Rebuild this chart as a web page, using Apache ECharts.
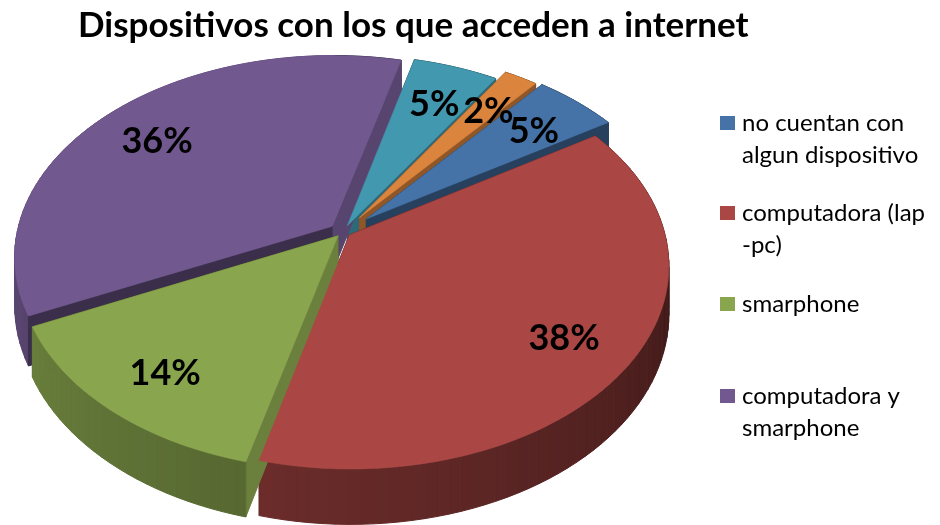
<!DOCTYPE html>
<html>
<head>
<meta charset="utf-8">
<script src="https://cdn.jsdelivr.net/npm/echarts@6/dist/echarts.min.js"></script>
<style>
  html, body { margin: 0; padding: 0; background: #fff; }
  #chart { width: 940px; height: 525px; }
</style>
</head>
<body>
<div id="chart"></div>
<script>
// data
const categories = ['no cuentan con algun dispositivo', 'computadora (lap -pc)', 'smarphone', 'computadora y smarphone', 'categoria 5', 'categoria 6'];
const values = [5, 38, 14, 36, 5, 2];
const legendNames = categories.slice(0, 4);
const colors = ['#4572a7', '#aa4643', '#89a54e', '#71588f', '#4198af', '#db843d'];

// pie layout (3d look)
const CX = 343, CY = 232, RX = 315, RY = 198, DEPTH = 47;
const PERSP = 0.15, START = 39.5, LABEL_R = 0.78, LABEL_DY = 6;
// how far each slice is pulled out (fraction of radius), same order as values
const explode = [0.1, 0.025, 0.025, 0.045, 0.035, 0.09];
const FONT = 'Lato';
const rad = Math.PI / 180;

const total = values.reduce((a, b) => a + b, 0);
const slices = [];
let acc = 0;
values.forEach((v) => {
  const a0 = START + (acc / total) * 360;
  acc += v;
  const a1 = START + (acc / total) * 360;
  slices.push({ a0: a0, a1: a1, mid: (a0 + a1) / 2 });
});

function proj(X, Y, drop) {
  const s = 1 / (1 + PERSP * Y);
  return [CX + RX * X * s, CY - RY * Y * s + drop * s];
}
function norm(a) {
  return ((a % 360) + 360) % 360;
}
function shade(hex, k) {
  const n = parseInt(hex.slice(1), 16);
  const r = Math.round(((n >> 16) & 255) * k);
  const g = Math.round(((n >> 8) & 255) * k);
  const b = Math.round((n & 255) * k);
  return 'rgb(' + r + ',' + g + ',' + b + ')';
}
function clamp(v, lo, hi) {
  return Math.max(lo, Math.min(hi, v));
}
// lighting roughly like excel: walls facing left are lighter
function radialK(n) {
  n = norm(n);
  if (n < 90 || n > 270) return 0.5;
  return clamp(1.3 - n / 200, 0.35, 0.9);
}
function outerK(t) {
  t = norm(t);
  return clamp(0.36 + (t - 90) * 0.0026, 0.35, 0.85);
}

function slicePoints(i) {
  const sl = slices[i];
  const ox = explode[i] * Math.sin(sl.mid * rad);
  const oy = explode[i] * Math.cos(sl.mid * rad);
  const pts = [[ox, oy]];
  const n = Math.max(2, Math.ceil((sl.a1 - sl.a0) / 2));
  for (let j = 0; j <= n; j++) {
    const t = (sl.a0 + ((sl.a1 - sl.a0) * j) / n) * rad;
    pts.push([ox + Math.sin(t), oy + Math.cos(t)]);
  }
  return { pts: pts, n: n, ox: ox, oy: oy };
}

function renderWalls(i) {
  const sl = slices[i];
  const sp = slicePoints(i);
  const pts = sp.pts;
  const top = pts.map((p) => proj(p[0], p[1], 0));
  const bot = pts.map((p) => proj(p[0], p[1], DEPTH));
  const faces = [];
  for (let j = 0; j < pts.length; j++) {
    const j2 = (j + 1) % pts.length;
    let normal, k;
    if (j === 0) {
      normal = sl.a0 - 90;
      k = radialK(normal);
    } else if (j2 === 0) {
      normal = sl.a1 + 90;
      k = radialK(normal);
    } else {
      normal = sl.a0 + ((sl.a1 - sl.a0) * (j - 0.5)) / sp.n;
      k = outerK(normal);
    }
    const c = shade(colors[i], k);
    faces.push({
      order: Math.cos(normal * rad),
      el: {
        type: 'polygon',
        shape: { points: [top[j], top[j2], bot[j2], bot[j]] },
        style: { fill: c, stroke: c, lineWidth: 1 }
      }
    });
  }
  // back faces first
  faces.sort((a, b) => b.order - a.order);
  return { type: 'group', children: faces.map((f) => f.el) };
}

function renderTop(i) {
  const top = slicePoints(i).pts.map((p) => proj(p[0], p[1], 0));
  return {
    type: 'polygon',
    shape: { points: top },
    style: { fill: colors[i], stroke: colors[i], lineWidth: 0.6 }
  };
}

// depth rank: back slices drawn first
const depthRank = slices
  .map((s, i) => ({ i: i, d: Math.cos(s.mid * rad) }))
  .sort((a, b) => b.d - a.d)
  .map((o) => o.i);

const series = [];
categories.forEach((name, i) => {
  series.push({
    name: name,
    type: 'custom',
    coordinateSystem: 'none',
    z: 1 + depthRank.indexOf(i) * 0.1,
    itemStyle: { color: colors[i] },
    data: [values[i]],
    renderItem: () => renderWalls(i)
  });
});
categories.forEach((name, i) => {
  series.push({
    name: name,
    type: 'custom',
    coordinateSystem: 'none',
    z: 3,
    itemStyle: { color: colors[i] },
    data: [values[i]],
    renderItem: () => renderTop(i)
  });
});
series.push({
  name: 'etiquetas',
  type: 'custom',
  coordinateSystem: 'none',
  z: 5,
  silent: true,
  data: values,
  renderItem: (params, api) => {
    const i = params.dataIndex;
    const sl = slices[i];
    const sp = slicePoints(i);
    const p = proj(sp.ox + LABEL_R * Math.sin(sl.mid * rad), sp.oy + LABEL_R * Math.cos(sl.mid * rad), 0);
    return {
      type: 'text',
      x: p[0],
      y: p[1] + LABEL_DY,
      style: {
        text: Math.round((api.value(0) / total) * 100) + '%',
        fill: '#000',
        fontFamily: FONT,
        fontWeight: 'bold',
        fontSize: 36,
        align: 'center',
        verticalAlign: 'middle'
      }
    };
  }
});

// legend: wrap names like excel does, one legend component per text line
function wrap(text, maxLen) {
  const lines = [];
  let cur = '';
  text.split(' ').forEach((w) => {
    if (cur && (cur + ' ' + w).length > maxLen) {
      lines.push(cur);
      cur = w;
    } else {
      cur = cur ? cur + ' ' + w : w;
    }
  });
  lines.push(cur);
  return lines;
}
const legendTops = [123, 213, 304, 396];
const LINE_H = 32;
const legends = [];
legendNames.forEach((name, i) => {
  wrap(name, 17).forEach((line, li) => {
    legends.push({
      left: 720,
      top: legendTops[i] + li * LINE_H - 14,
      orient: 'vertical',
      padding: 0,
      itemWidth: 15,
      itemHeight: 14,
      icon: li === 0 ? 'rect' : 'none',
      data: [name],
      formatter: () => line,
      textStyle: { fontFamily: FONT, fontSize: 24, lineHeight: 28, color: '#000', padding: [0, 0, 0, 2] }
    });
  });
});

const chart = echarts.init(document.getElementById('chart'), null, { renderer: 'canvas' });
chart.setOption({
  backgroundColor: '#fff',
  animation: false,
  title: {
    text: 'Dispositivos con los que acceden a internet',
    left: 78,
    top: 8,
    padding: 0,
    textStyle: { fontFamily: FONT, fontWeight: 'bold', fontSize: 35, color: '#000' }
  },
  legend: legends,
  series: series
});
</script>
</body>
</html>
